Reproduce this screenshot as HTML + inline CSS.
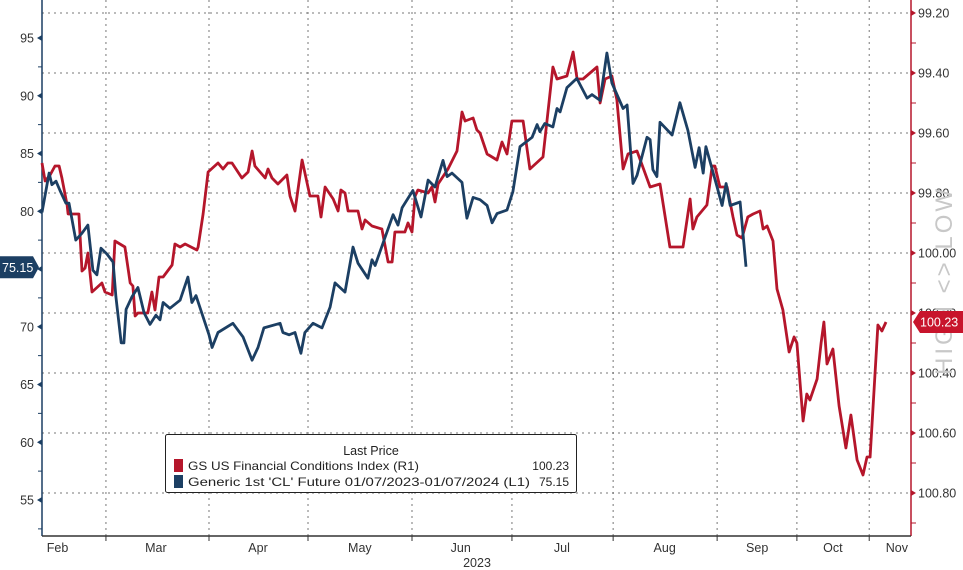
<!DOCTYPE html>
<html><head><meta charset="utf-8"><style>
html,body{margin:0;padding:0;background:#fff;}
svg{display:block;font-family:"Liberation Sans",sans-serif;}
</style></head><body>
<svg id="chart" width="963" height="570" viewBox="0 0 963 570" xmlns="http://www.w3.org/2000/svg">
<g id="grid"></g>
<g id="axes"></g>
<text transform="translate(952,375) rotate(-90)" font-size="24" fill="#c8c8c8" letter-spacing="3">HIGH &lt;&gt; LOW</text>
<g id="series"></g>
<g id="tags"></g>
<g>
<rect x="165.5" y="434.5" width="411" height="58" fill="#fff" stroke="#222" stroke-width="1" rx="2"/>
<text x="371" y="455" font-size="12.5" text-anchor="middle" fill="#222">Last Price</text>
<rect x="174" y="459" width="9" height="13" fill="#b5162b"/>
<text x="188" y="470" font-size="12" fill="#222" textLength="231" lengthAdjust="spacingAndGlyphs">GS US Financial Conditions Index  (R1)</text>
<text x="569" y="470" font-size="12" fill="#222" text-anchor="end">100.23</text>
<rect x="174" y="475" width="9" height="13" fill="#1c3f63"/>
<text x="188" y="486" font-size="12" fill="#222" textLength="342" lengthAdjust="spacingAndGlyphs">Generic 1st 'CL' Future 01/07/2023-01/07/2024   (L1)</text>
<text x="569" y="486" font-size="12" fill="#222" text-anchor="end">75.15</text>
</g>
</svg>
<script>
// ---- data ----
const redDays = [0,1,2.6,4.2,5.5,6.4,8.1,8.4,11.9,12.9,13.9,14.8,16.1,19.3,20.3,22.6,23.5,26.7,28.4,29.3,30,30.9,34.1,35.4,36.4,37.7,39,41.9,42.8,44.5,46.1,49.9,50.3,51.9,53.5,56.7,58.3,59.9,61.2,64.4,66.4,67.7,68.6,71.9,72.8,74.1,76,78.9,79.9,81.5,83.8,86.3,88.9,89.9,91.2,93.8,95.4,96.3,97.6,98.6,101.8,103.1,104.1,106.3,109.5,111.5,112.8,113.7,116.9,117.9,119.2,120.2,121.1,124.4,125.6,126.6,127.6,130.8,133.7,135.3,136.3,138.9,140.1,141.1,143.4,146.6,148.2,149.8,151.4,155,157.2,161.4,164.6,165.9,169.1,171.1,172.4,174.3,178.8,179.8,181.4,183.6,185.2,187.2,188.8,191.7,195.9,199.1,202.3,206.5,208.8,209.7,211,214.2,215.9,216.8,218.4,220.7,222.6,223.9,225.5,227.4,229.1,231.3,232.3,233.6,235.5,236.8,238.7,240.7,242.3,243.2,245.2,246.4,247.4,249.7,251,251.9,252.9,254.8,256.8,259,260.6,262.6,264.5,265.8,266.8,269.3,270.6,271.9];
const redValues = [99.70,99.76,99.74,99.71,99.71,99.75,99.84,99.87,99.87,100.06,100.05,100.00,100.13,100.10,100.13,100.14,99.96,99.98,100.10,100.11,100.21,100.20,100.20,100.13,100.19,100.08,100.08,100.04,99.97,99.98,99.97,99.99,99.98,99.87,99.73,99.70,99.72,99.70,99.70,99.75,99.73,99.66,99.71,99.75,99.72,99.75,99.77,99.74,99.81,99.86,99.69,99.81,99.81,99.88,99.78,99.82,99.86,99.79,99.80,99.86,99.86,99.92,99.89,99.91,99.92,100.03,100.03,99.93,99.93,99.90,99.93,99.81,99.79,99.80,99.78,99.83,99.77,99.72,99.66,99.53,99.56,99.55,99.59,99.60,99.67,99.69,99.63,99.67,99.56,99.56,99.72,99.68,99.38,99.42,99.41,99.33,99.42,99.42,99.38,99.50,99.42,99.41,99.49,99.72,99.67,99.66,99.78,99.77,99.98,99.98,99.82,99.92,99.88,99.84,99.71,99.71,99.78,99.78,99.88,99.94,99.95,99.88,99.87,99.86,99.92,99.91,99.96,100.12,100.19,100.33,100.28,100.30,100.56,100.47,100.49,100.42,100.30,100.23,100.37,100.32,100.51,100.65,100.54,100.69,100.74,100.68,100.68,100.24,100.26,100.23];
const blueDays = [0,2.3,3.2,4.5,5.8,7.7,8.7,10.9,12.9,14.8,16.4,17.7,19,20.9,22.9,23.8,25.5,26.4,27.1,29,30.9,32.9,34.8,36.7,38,39,41.2,44.5,47,48.3,49.6,53.8,54.8,56.7,61.5,64.8,67.7,69.6,71.5,76.7,77.6,79.6,81.5,83.4,84.7,87.3,90.2,92.8,94.4,97.6,100.2,101.8,105,106.3,107.3,108.9,113.1,114.7,116,119.5,122.1,124.4,126.6,129.2,130.5,132.1,135.3,136.9,138.9,141.1,143.4,145,146.6,149.8,151.7,154,157.9,159.5,160.4,162,164.6,165.9,166.9,169.1,172.3,175.6,177.2,179.8,182,183.6,187.2,188.5,190.4,191.7,194.9,195.9,196.8,198.1,199.1,203,205.5,208.1,210.4,211.7,213,213.9,217.5,219.1,220.4,221.7,224.9,226.8];
const blueValues = [79.9,83.3,82.3,82.6,81.8,80.7,80.7,77.5,78.1,78.8,74.9,74.5,76.8,76.3,75.6,72.6,68.6,68.6,71.5,72.6,73.4,71.2,70.2,71.0,70.6,72.1,71.6,72.3,74.3,72.1,72.7,69.3,68.2,69.5,70.3,69.1,67.1,68.2,69.9,70.3,69.5,69.3,69.5,67.7,69.5,70.3,69.9,71.7,73.8,73.0,76.9,75.5,74.2,75.8,75.3,76.5,79.7,78.8,80.3,81.8,79.5,82.7,82.1,84.4,83.0,83.3,82.5,79.4,81.2,81.0,80.5,79.0,79.8,80.1,81.7,85.6,86.4,87.5,86.9,87.6,87.3,88.9,88.6,90.7,91.5,89.8,90.1,89.6,93.7,91.1,88.9,89.2,82.4,83.1,86.4,86.2,83.6,83.0,87.7,86.6,89.4,87.0,83.8,85.5,83.3,85.6,82.1,80.5,82.4,80.5,80.8,75.2];
const leftTicks = [95,90,85,80,75,70,65,60,55];
const rightTicks = [99.20,99.40,99.60,99.80,100.00,100.20,100.40,100.60,100.80];
const monthBounds = [20.6,53.8,85.7,119.2,151.4,184,217.5,243.2,266.5];
const monthLabels = ["Feb","Mar","Apr","May","Jun","Jul","Aug","Sep","Oct","Nov"];
const monthLabelDays = [5,36.7,69.6,102.4,134.9,167.5,200.6,230.4,254.8,275.4];
const lastRed = 100.23, lastBlue = 75.15;

// ---- scales ----
const X0=42, X1=911, YB=536;
const x = d => X0 + d*3.104;
const yL = v => 38 + (95 - v)*11.55;
const yR = v => 13 + (v - 99.2)*300;
const NS="http://www.w3.org/2000/svg";
function mk(tag, attrs, parent){const e=document.createElementNS(NS,tag);for(const k in attrs)e.setAttribute(k,attrs[k]);parent.appendChild(e);return e;}
const grid=document.getElementById('grid'), axes=document.getElementById('axes'), series=document.getElementById('series'), tags=document.getElementById('tags');

rightTicks.forEach(t=>{
  const l=mk('line',{x1:X0,x2:X1,y1:yR(t),y2:yR(t),stroke:'#777','stroke-width':1,'stroke-dasharray':'2,4'},grid);
  
  
});
monthBounds.forEach(d=>{
  const l=mk('line',{x1:x(d),x2:x(d),y1:0,y2:YB,stroke:'#777','stroke-width':1,'stroke-dasharray':'2,4'},grid);
  
  
  mk('line',{x1:x(d),x2:x(d),y1:YB,y2:YB+5,stroke:'#333'},axes);
});
mk('line',{x1:X0,x2:X0,y1:0,y2:YB,stroke:'#1c3f63','stroke-width':1.5},axes);
mk('line',{x1:X1,x2:X1,y1:0,y2:YB,stroke:'#b5162b','stroke-width':1.5},axes);
mk('line',{x1:X0,x2:X1,y1:YB,y2:YB,stroke:'#333','stroke-width':1.5},axes);
leftTicks.forEach(t=>{
  const y=yL(t);
  mk('path',{d:`M${X0} ${y-3}L${X0-5} ${y}L${X0} ${y+3}Z`,fill:'#1c3f63'},axes);
  mk('line',{x1:X0,x2:X0-4,y1:yL(t-2.5),y2:yL(t-2.5),stroke:'#1c3f63'},axes);
  const tx=mk('text',{x:X0-8,y:y+4.5,'font-size':12.5,'text-anchor':'end',fill:'#333'},axes);
  tx.textContent=t;
  
  
});
rightTicks.forEach(t=>{
  const y=yR(t);
  mk('path',{d:`M${X1} ${y-3}L${X1+5} ${y}L${X1} ${y+3}Z`,fill:'#b5162b'},axes);
  mk('line',{x1:X1,x2:X1+5,y1:yR(t+0.1),y2:yR(t+0.1),stroke:'#b5162b'},axes);
  const tx=mk('text',{x:X1+7,y:y+4.5,'font-size':12.5,fill:'#333'},axes);
  tx.textContent=t.toFixed(2);
  
  
});
monthLabels.forEach((m,i)=>{
  const tx=mk('text',{x:x(monthLabelDays[i]),y:552,'font-size':12.5,'text-anchor':'middle',fill:'#333'},axes);
  tx.textContent=m;
  
  
});
const yr=mk('text',{x:477,y:567,'font-size':12.5,'text-anchor':'middle',fill:'#333'},axes);
yr.textContent='2023';



function line(days, vals, ys, color, name){
  const d=days.map((dd,i)=>(i?'L':'M')+x(dd).toFixed(1)+' '+ys(vals[i]).toFixed(1)).join('');
  const p=mk('path',{d:d,fill:'none',stroke:color,'stroke-width':2.8,'stroke-linejoin':'round'},series);
  
  
}
line(redDays, redValues, yR, '#b5162b', 'fci-line');
line(blueDays, blueValues, yL, '#1c3f63', 'crude-line');

const by=yL(lastBlue);
const bt=mk('path',{d:`M0 ${by-11}H33L39 ${by}L33 ${by+11}H0Z`,fill:'#1c3f63'},tags);


const btx=mk('text',{x:2,y:by+4.5,'font-size':12.5,fill:'#fff'},tags);
btx.textContent=lastBlue.toFixed(2);
const ry=yR(lastRed);
const rt=mk('path',{d:`M963 ${ry-11}H920L913 ${ry}L920 ${ry+11}H963Z`,fill:'#c8142c'},tags);


const rtx=mk('text',{x:920,y:ry+4.5,'font-size':12.5,fill:'#fff'},tags);
rtx.textContent=lastRed.toFixed(2);
</script>
</body></html>
